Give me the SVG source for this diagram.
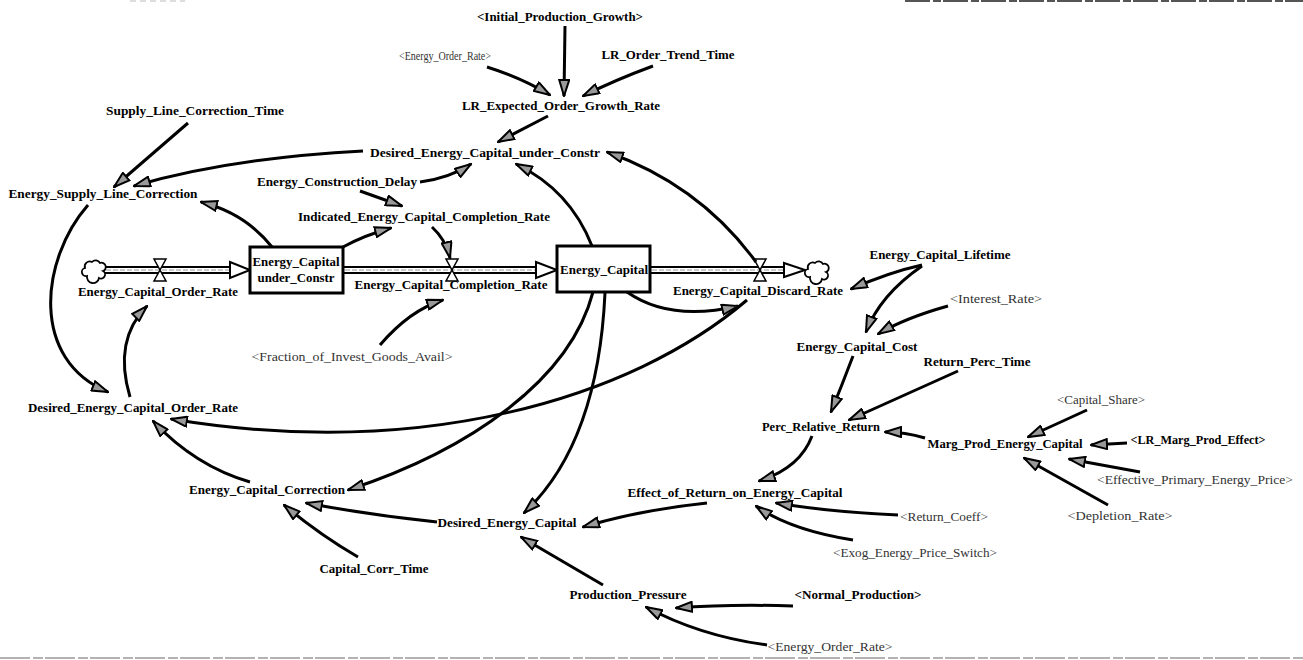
<svg xmlns="http://www.w3.org/2000/svg" width="1303" height="660" viewBox="0 0 1303 660">
<style>
.t{font-family:"Liberation Serif","Times New Roman",serif;font-size:12px;font-weight:bold;fill:#000;text-anchor:middle}
.g{font-family:"Liberation Serif","Times New Roman",serif;font-size:12px;font-weight:normal;fill:#333;text-anchor:middle}
.lk{fill:none;stroke:#000;stroke-width:3;marker-end:url(#ah)}
.pO{fill:none;stroke:#000;stroke-width:8}
.pI{fill:none;stroke:#fff;stroke-width:4}
.pD{fill:none;stroke:#999;stroke-width:1;stroke-dasharray:5 2}
.box{fill:#fff;stroke:#000;stroke-width:3}
.fa{fill:#fff;stroke:#000;stroke-width:2}
.valve{fill:#fff;stroke:#000;stroke-width:1.5}
.cloud{fill:#fff;stroke:#000;stroke-width:1.8}
</style>
<defs>
<marker id="ah" viewBox="0 0 18 12" refX="17" refY="6" markerWidth="18" markerHeight="12" markerUnits="userSpaceOnUse" orient="auto">
<path d="M1,1 L17,6 L1,11 Z" fill="#999" stroke="#000" stroke-width="2"/>
</marker>
<path id="cl" d="M-7,6 A4,4 0 0 1 -9,-2 A5,5 0 0 1 -2,-8 A5,5 0 0 1 6,-7 A4,4 0 0 1 9,1 A4,4 0 0 1 5,8 A5,5 0 0 1 -7,6 Z"/>
</defs>
<rect x="0" y="0" width="1303" height="660" fill="#fff"/>
<g id="scan-edges">
<line x1="905" y1="1" x2="1303" y2="1" stroke="#555" stroke-width="2" stroke-dasharray="25 3 8 2"/>
<line x1="130" y1="1" x2="185" y2="1" stroke="#bbb" stroke-width="1" stroke-dasharray="6 4"/>
<line x1="0" y1="658" x2="1303" y2="658" stroke="#999" stroke-width="1.5" stroke-dasharray="30 3 10 2"/>
</g>
<g id="flows">
<path class="pO" d="M104,270 H232"/><path class="pI" d="M104,270 H232"/><path class="pD" d="M106,270 H230"/>
<polygon class="fa" points="230,262 250,270 230,278"/>
<path class="pO" d="M343,270 H537"/><path class="pI" d="M343,270 H537"/><path class="pD" d="M345,270 H535"/>
<polygon class="fa" points="536,262 557,270 536,278"/>
<path class="pO" d="M650,270 H786"/><path class="pI" d="M650,270 H786"/><path class="pD" d="M652,270 H784"/>
<polygon class="fa" points="784,263 805,270 784,277"/>
</g>
<g id="cloud-source"><use href="#cl" class="cloud" x="94" y="270"/></g>
<g id="cloud-sink"><use href="#cl" class="cloud" x="817" y="271"/></g>
<g id="Energy_Capital_under_Constr">
<rect class="box" x="250" y="247" width="93" height="46"/>
<text class="t" x="296" y="266" textLength="87" lengthAdjust="spacingAndGlyphs">Energy_Capital</text>
<text class="t" x="296" y="282" textLength="77" lengthAdjust="spacingAndGlyphs">under_Constr</text>
</g>
<g id="Energy_Capital">
<rect class="box" x="557" y="246" width="93" height="46"/>
<text class="t" x="604" y="274" textLength="88" lengthAdjust="spacingAndGlyphs">Energy_Capital</text>
</g>
<g id="Energy_Capital_Order_Rate">
<polygon class="valve" points="154,259 166,259 154,281 166,281"/>
<text class="t" x="158" y="296" textLength="160" lengthAdjust="spacingAndGlyphs">Energy_Capital_Order_Rate</text>
</g>
<g id="Energy_Capital_Completion_Rate">
<polygon class="valve" points="446,259 458,259 446,281 458,281"/>
<text class="t" x="451" y="289" textLength="193" lengthAdjust="spacingAndGlyphs">Energy_Capital_Completion_Rate</text>
</g>
<g id="Energy_Capital_Discard_Rate">
<polygon class="valve" points="754,259 766,259 754,281 766,281"/>
<text class="t" x="758" y="295" textLength="170" lengthAdjust="spacingAndGlyphs">Energy_Capital_Discard_Rate</text>
</g>
<g id="connectors">
<path class="lk" d="M565,26 L564,96"/>
<path class="lk" d="M487,67 Q522,78 550,95"/>
<path class="lk" d="M653,66 Q615,80 583,96"/>
<path class="lk" d="M548,116 L498,142"/>
<path class="lk" d="M420,182 Q450,178 471,164"/>
<path class="lk" d="M360,191 L402,206"/>
<path class="lk" d="M363,151 Q230,158 134,186"/>
<path class="lk" d="M188,123 L114,187"/>
<path class="lk" d="M272,247 Q245,213 201,202"/>
<path class="lk" d="M343,247 Q365,235 391,228"/>
<path class="lk" d="M432,227 Q446,240 450,258"/>
<path class="lk" d="M592,246 Q570,190 516,164"/>
<path class="lk" d="M756,262 Q700,185 607,152"/>
<path class="lk" d="M88,205 C40,260 30,360 108,392"/>
<path class="lk" d="M130,397 Q113,340 147,306"/>
<path class="lk" d="M250,482 Q195,466 153,421"/>
<path class="lk" d="M747,300 C630,400 420,460 171,419"/>
<path class="lk" d="M627,292 Q670,322 738,306"/>
<path class="lk" d="M922,265 Q890,272 851,289"/>
<path class="lk" d="M922,266 Q880,295 866,332"/>
<path class="lk" d="M948,306 Q905,318 878,334"/>
<path class="lk" d="M853,356 Q842,385 831,412"/>
<path class="lk" d="M958,371 L849,420"/>
<path class="lk" d="M925,438 Q905,432 885,432"/>
<path class="lk" d="M1087,410 L1028,437"/>
<path class="lk" d="M1127,443 L1091,445"/>
<path class="lk" d="M1140,472 L1069,459"/>
<path class="lk" d="M1108,505 L1024,458"/>
<path class="lk" d="M812,436 Q800,468 759,481"/>
<path class="lk" d="M898,515 Q830,512 776,503"/>
<path class="lk" d="M853,540 Q790,530 756,506"/>
<path class="lk" d="M707,503 Q640,510 583,527"/>
<path class="lk" d="M437,522 Q370,515 306,503"/>
<path class="lk" d="M593,292 C570,380 470,450 348,490"/>
<path class="lk" d="M605,293 C600,400 570,470 524,513"/>
<path class="lk" d="M380,345 Q410,310 443,300"/>
<path class="lk" d="M358,557 Q320,535 284,505"/>
<path class="lk" d="M603,585 Q560,560 521,537"/>
<path class="lk" d="M793,606 Q730,604 676,608"/>
<path class="lk" d="M767,645 Q700,636 646,607"/>
</g>
<g id="Initial_Production_Growth"><text class="t" x="560" y="21" textLength="166" lengthAdjust="spacingAndGlyphs">&lt;Initial_Production_Growth&gt;</text></g>
<g id="Energy_Order_Rate_top"><text class="g" x="445" y="60" textLength="92" lengthAdjust="spacingAndGlyphs">&lt;Energy_Order_Rate&gt;</text></g>
<g id="LR_Order_Trend_Time"><text class="t" x="668" y="59" textLength="133" lengthAdjust="spacingAndGlyphs">LR_Order_Trend_Time</text></g>
<g id="LR_Expected_Order_Growth_Rate"><text class="t" x="561" y="110" textLength="198" lengthAdjust="spacingAndGlyphs">LR_Expected_Order_Growth_Rate</text></g>
<g id="Supply_Line_Correction_Time"><text class="t" x="195" y="115" textLength="178" lengthAdjust="spacingAndGlyphs">Supply_Line_Correction_Time</text></g>
<g id="Desired_Energy_Capital_under_Constr"><text class="t" x="485" y="157" textLength="230" lengthAdjust="spacingAndGlyphs">Desired_Energy_Capital_under_Constr</text></g>
<g id="Energy_Supply_Line_Correction"><text class="t" x="103" y="198" textLength="189" lengthAdjust="spacingAndGlyphs">Energy_Supply_Line_Correction</text></g>
<g id="Energy_Construction_Delay"><text class="t" x="337" y="186" textLength="160" lengthAdjust="spacingAndGlyphs">Energy_Construction_Delay</text></g>
<g id="Indicated_Energy_Capital_Completion_Rate"><text class="t" x="424" y="221" textLength="252" lengthAdjust="spacingAndGlyphs">Indicated_Energy_Capital_Completion_Rate</text></g>
<g id="Fraction_of_Invest_Goods_Avail"><text class="g" x="352" y="361" textLength="201" lengthAdjust="spacingAndGlyphs">&lt;Fraction_of_Invest_Goods_Avail&gt;</text></g>
<g id="Energy_Capital_Lifetime"><text class="t" x="940" y="259" textLength="141" lengthAdjust="spacingAndGlyphs">Energy_Capital_Lifetime</text></g>
<g id="Interest_Rate"><text class="g" x="996" y="303" textLength="92" lengthAdjust="spacingAndGlyphs">&lt;Interest_Rate&gt;</text></g>
<g id="Energy_Capital_Cost"><text class="t" x="857" y="351" textLength="121" lengthAdjust="spacingAndGlyphs">Energy_Capital_Cost</text></g>
<g id="Return_Perc_Time"><text class="t" x="977" y="366" textLength="107" lengthAdjust="spacingAndGlyphs">Return_Perc_Time</text></g>
<g id="Capital_Share"><text class="g" x="1101" y="404" textLength="88" lengthAdjust="spacingAndGlyphs">&lt;Capital_Share&gt;</text></g>
<g id="Perc_Relative_Return"><text class="t" x="821" y="431" textLength="118" lengthAdjust="spacingAndGlyphs">Perc_Relative_Return</text></g>
<g id="Marg_Prod_Energy_Capital"><text class="t" x="1005" y="448" textLength="155" lengthAdjust="spacingAndGlyphs">Marg_Prod_Energy_Capital</text></g>
<g id="LR_Marg_Prod_Effect"><text class="t" x="1198" y="444" textLength="135" lengthAdjust="spacingAndGlyphs">&lt;LR_Marg_Prod_Effect&gt;</text></g>
<g id="Effective_Primary_Energy_Price"><text class="g" x="1195" y="484" textLength="196" lengthAdjust="spacingAndGlyphs">&lt;Effective_Primary_Energy_Price&gt;</text></g>
<g id="Depletion_Rate"><text class="g" x="1120" y="520" textLength="105" lengthAdjust="spacingAndGlyphs">&lt;Depletion_Rate&gt;</text></g>
<g id="Return_Coeff"><text class="g" x="944" y="521" textLength="88" lengthAdjust="spacingAndGlyphs">&lt;Return_Coeff&gt;</text></g>
<g id="Exog_Energy_Price_Switch"><text class="g" x="915" y="557" textLength="164" lengthAdjust="spacingAndGlyphs">&lt;Exog_Energy_Price_Switch&gt;</text></g>
<g id="Effect_of_Return_on_Energy_Capital"><text class="t" x="735" y="497" textLength="215" lengthAdjust="spacingAndGlyphs">Effect_of_Return_on_Energy_Capital</text></g>
<g id="Desired_Energy_Capital"><text class="t" x="507" y="527" textLength="139" lengthAdjust="spacingAndGlyphs">Desired_Energy_Capital</text></g>
<g id="Energy_Capital_Correction"><text class="t" x="267" y="494" textLength="156" lengthAdjust="spacingAndGlyphs">Energy_Capital_Correction</text></g>
<g id="Capital_Corr_Time"><text class="t" x="374" y="573" textLength="109" lengthAdjust="spacingAndGlyphs">Capital_Corr_Time</text></g>
<g id="Desired_Energy_Capital_Order_Rate"><text class="t" x="133" y="412" textLength="210" lengthAdjust="spacingAndGlyphs">Desired_Energy_Capital_Order_Rate</text></g>
<g id="Production_Pressure"><text class="t" x="628" y="599" textLength="117" lengthAdjust="spacingAndGlyphs">Production_Pressure</text></g>
<g id="Normal_Production"><text class="t" x="858" y="599" textLength="127" lengthAdjust="spacingAndGlyphs">&lt;Normal_Production&gt;</text></g>
<g id="Energy_Order_Rate_bottom"><text class="g" x="830" y="651" textLength="125" lengthAdjust="spacingAndGlyphs">&lt;Energy_Order_Rate&gt;</text></g>
</svg>
